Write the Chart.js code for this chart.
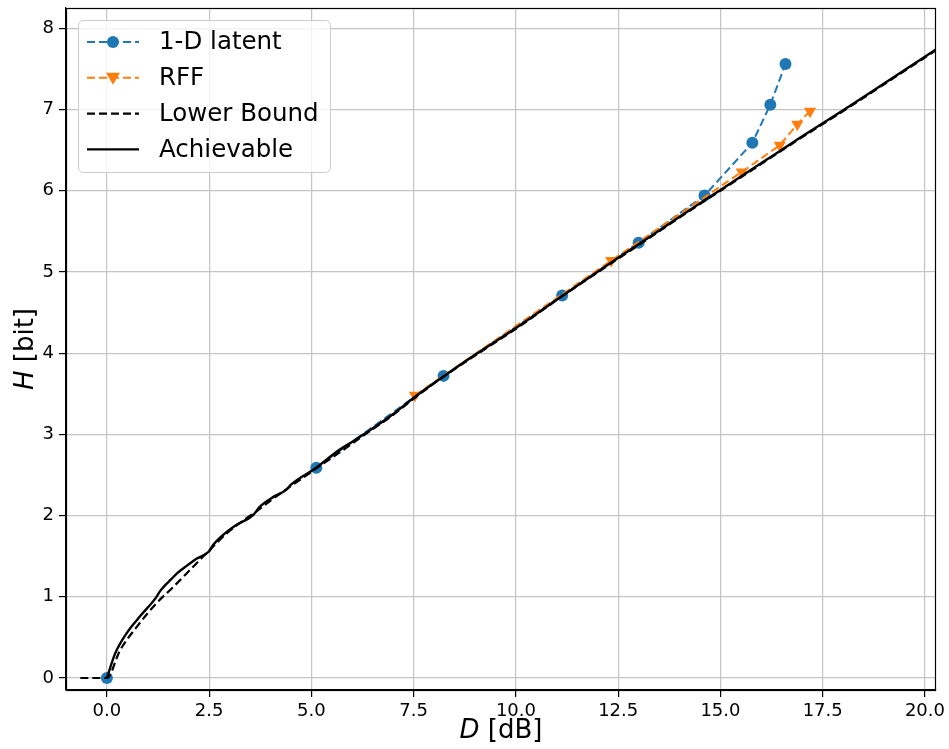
<!DOCTYPE html>
<html>
<head>
<meta charset="utf-8">
<script src="https://cdn.jsdelivr.net/npm/chart.js@4.4.1/dist/chart.umd.min.js"></script>
<style>
  html, body { margin: 0; padding: 0; background: #fff; }
  #wrap { width: 949px; height: 749px; }
</style>
</head>
<body>
<div id="wrap"><canvas id="graphic"></canvas></div>
<script>
// values
const latentD = [0.0, null, 5.12, 8.23, 11.13, 13.0, 14.61, 15.78, 16.22, 16.59];
const latentH = [0.0, null, 2.59, 3.72, 4.71, 5.36, 5.94, 6.59, 7.06, 7.56];

const rffD = [7.53, 12.33, 15.52, 16.45, 16.88, 17.19];
const rffH = [3.48, 5.14, 6.23, 6.56, 6.82, 6.98];

const lowerD = [-0.65, 0.0, 0.32, 0.73, 1.21, 1.62, 2.07, 2.44, 2.93, 3.42, 3.6, 4.07, 4.72, 5.12, 5.7, 6.4, 7.0, 7.5, 8.2, 9.0, 10.0, 11.1, 12.4, 13.0, 14.0, 15.0, 16.0, 17.0, 18.0, 19.0, 20.3];
const lowerH = [0.0, 0.0, 0.34, 0.63, 0.92, 1.12, 1.35, 1.54, 1.78, 1.97, 2.03, 2.21, 2.44, 2.58, 2.78, 3.03, 3.24, 3.44, 3.70, 3.97, 4.30, 4.69, 5.13, 5.33, 5.67, 6.00, 6.33, 6.66, 6.98, 7.31, 7.74];

const achD = [0.0, 0.2, 0.48, 0.81, 1.2, 1.3, 1.42, 1.56, 1.72, 1.95, 2.2, 2.5, 2.6, 3.09, 3.58, 3.74, 4.07, 4.39, 4.5, 5.12, 5.6, 6.0, 6.43, 7.0, 7.5, 8.22, 9.0, 10.0, 11.12, 12.4, 13.0, 14.0, 15.0, 16.0, 17.0, 18.0, 19.0, 20.3];
const achH = [0.0, 0.30, 0.55, 0.76, 0.99, 1.07, 1.14, 1.21, 1.29, 1.38, 1.47, 1.56, 1.64, 1.86, 2.01, 2.11, 2.23, 2.32, 2.38, 2.59, 2.78, 2.91, 3.05, 3.25, 3.45, 3.71, 3.98, 4.31, 4.70, 5.14, 5.34, 5.68, 6.01, 6.34, 6.67, 6.99, 7.32, 7.75];

const xTicks = [0.0, 2.5, 5.0, 7.5, 10.0, 12.5, 15.0, 17.5, 20.0];
const yTicks = [0, 1, 2, 3, 4, 5, 6, 7, 8];

const blue = "#1f77b4";
const orange = "#ff7f0e";
const fontName = '"DejaVu Sans", sans-serif';

const toPoints = (xs, ys) => xs.map((x, i) => ({ x: x, y: ys[i] }));

// cadre haut/droite + titres des axes + legende
const decorations = {
  id: "decorations",
  afterDraw(chart) {
    const ctx = chart.ctx;
    const a = chart.chartArea;
    ctx.save();
    ctx.strokeStyle = "#000";
    ctx.lineWidth = 1.2;
    ctx.setLineDash([]);
    ctx.strokeRect(a.left + 0.5, a.top + 0.5, a.right - a.left - 1, a.bottom - a.top);

    // x title
    ctx.fillStyle = "#000";
    ctx.textBaseline = "middle";
    ctx.font = "italic 26px " + fontName;
    const dW = ctx.measureText("D").width;
    ctx.font = "26px " + fontName;
    const restW = ctx.measureText(" [dB]").width;
    const cx = (a.left + a.right) / 2;
    let sx = cx - (dW + restW) / 2;
    ctx.textAlign = "left";
    ctx.font = "italic 26px " + fontName;
    ctx.fillText("D", sx, 731);
    ctx.font = "26px " + fontName;
    ctx.fillText(" [dB]", sx + dW, 731);

    // y title
    ctx.save();
    ctx.translate(26, (a.top + a.bottom) / 2);
    ctx.rotate(-Math.PI / 2);
    ctx.font = "italic 26px " + fontName;
    const hW = ctx.measureText("H").width;
    ctx.font = "26px " + fontName;
    const bitW = ctx.measureText(" [bit]").width;
    sx = -(hW + bitW) / 2;
    ctx.font = "italic 26px " + fontName;
    ctx.fillText("H", sx, 0);
    ctx.font = "26px " + fontName;
    ctx.fillText(" [bit]", sx + hW, 0);
    ctx.restore();

    // legend
    ctx.fillStyle = "rgba(255,255,255,0.8)";
    ctx.strokeStyle = "#cccccc";
    ctx.lineWidth = 1;
    ctx.beginPath();
    ctx.roundRect(78.5, 20.5, 252, 152, 5);
    ctx.fill();
    ctx.stroke();

    const items = [
      { label: "1-D latent", color: blue, dash: [8, 4], width: 2, marker: "circle" },
      { label: "RFF", color: orange, dash: [8, 4], width: 2, marker: "tri" },
      { label: "Lower Bound", color: "#000", dash: [8, 4], width: 2.2, marker: null },
      { label: "Achievable", color: "#000", dash: [], width: 2.2, marker: null }
    ];
    items.forEach((it, i) => {
      const y = 42 + i * 35.8;
      ctx.strokeStyle = it.color;
      ctx.lineWidth = it.width;
      ctx.setLineDash(it.dash);
      ctx.beginPath();
      ctx.moveTo(87, y);
      ctx.lineTo(139, y);
      ctx.stroke();
      ctx.setLineDash([]);
      ctx.fillStyle = it.color;
      if (it.marker === "circle") {
        ctx.beginPath();
        ctx.arc(113, y, 6, 0, Math.PI * 2);
        ctx.fill();
      } else if (it.marker === "tri") {
        ctx.beginPath();
        ctx.moveTo(106, y - 5);
        ctx.lineTo(120, y - 5);
        ctx.lineTo(113, y + 7);
        ctx.closePath();
        ctx.fill();
      }
      ctx.fillStyle = "#000";
      ctx.font = "24.5px " + fontName;
      ctx.textAlign = "left";
      ctx.textBaseline = "middle";
      ctx.fillText(it.label, 159, y + 1);
    });
    ctx.restore();
  }
};

Chart.defaults.font.family = fontName;
Chart.defaults.color = "#000";

const renderChart = () => {
  const datos = {
    datasets: [
      {
        label: "1-D latent",
        data: toPoints(latentD, latentH),
        borderColor: blue,
        backgroundColor: blue,
        borderWidth: 2,
        borderDash: [8, 4],
        pointStyle: "circle",
        pointRadius: 6,
        pointBorderWidth: 0,
        spanGaps: false,
        order: 4
      },
      {
        label: "RFF",
        data: toPoints(rffD, rffH),
        borderColor: orange,
        backgroundColor: orange,
        borderWidth: 2,
        borderDash: [8, 4],
        pointStyle: "triangle",
        pointRotation: 180,
        pointRadius: 7,
        pointBorderWidth: 0,
        order: 3
      },
      {
        label: "Lower Bound",
        data: toPoints(lowerD, lowerH),
        borderColor: "#000",
        borderWidth: 2.2,
        borderDash: [8, 4],
        pointRadius: 0,
        cubicInterpolationMode: "monotone",
        order: 2
      },
      {
        label: "Achievable",
        data: toPoints(achD, achH),
        borderColor: "#000",
        borderWidth: 2.4,
        pointRadius: 0,
        cubicInterpolationMode: "monotone",
        order: 1
      }
    ]
  };

  const opciones = {
    responsive: true,
    maintainAspectRatio: false,
    animation: false,
    layout: { padding: { top: 8, right: 13, left: 0, bottom: 0 } },
    plugins: { legend: { display: false }, tooltip: { enabled: false } },
    elements: { line: { tension: 0 } },
    scales: {
      x: {
        type: "linear",
        min: -1.0,
        max: 20.27,
        afterBuildTicks: (scale) => { scale.ticks = xTicks.map(v => ({ value: v })); },
        afterFit: (scale) => { scale.height = 59; scale.paddingLeft = 0; scale.paddingRight = 0; },
        ticks: {
          autoSkip: false,
          maxRotation: 0,
          padding: 4,
          font: { size: 18 },
          callback: (v) => Number(v).toFixed(1)
        },
        grid: { color: "#c4c4c4", lineWidth: 1.2, tickLength: 7, tickColor: "#000", tickWidth: 1.2 },
        border: { display: true, color: "#000", width: 1.2 }
      },
      y: {
        type: "linear",
        min: -0.148,
        max: 8.25,
        afterBuildTicks: (scale) => { scale.ticks = yTicks.map(v => ({ value: v })); },
        afterFit: (scale) => { scale.width = 66; scale.paddingTop = 0; scale.paddingBottom = 0; },
        ticks: {
          padding: 5,
          font: { size: 18 },
          callback: (v) => String(v)
        },
        grid: { color: "#c4c4c4", lineWidth: 1.2, tickLength: 7, tickColor: "#000", tickWidth: 1.2 },
        border: { display: true, color: "#000", width: 1.2 }
      }
    }
  };

  const ctx = document.querySelector("#graphic");
  return new Chart(ctx, { type: "line", data: datos, options: opciones, plugins: [decorations] });
};

renderChart();
</script>
</body>
</html>
